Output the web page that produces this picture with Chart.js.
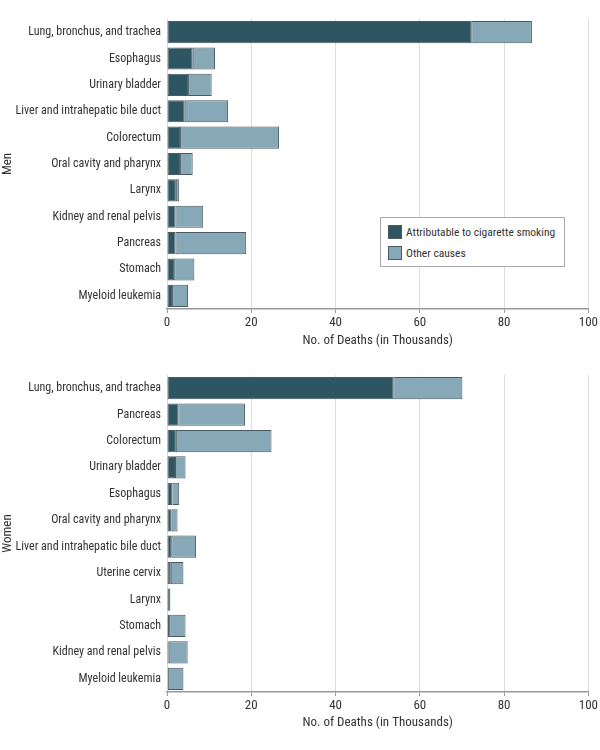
<!DOCTYPE html>
<html>
<head>
<meta charset="utf-8">
<script src="https://cdn.jsdelivr.net/npm/chart.js@4.4.1/dist/chart.umd.min.js"></script>
<style>
  body { margin: 0; background: #fff; }
  #wrap { position: relative; width: 600px; height: 750px; }
  canvas { display: block; }
  #legend {
    position: absolute; left: 380px; top: 217px; width: 183px; height: 48px;
    border: 1px solid #aaa; background: #fff;
    font-family: "Roboto Condensed", sans-serif;
    font-size: 11.5px; color: #333;
  }
  #legend div { position: absolute; left: 7px; height: 14px; line-height: 14px; white-space: nowrap; }
  #legend span.sw {
    display: inline-block; width: 12px; height: 12px; border: 1px solid #4a5a62;
    vertical-align: top; margin-right: 4px;
  }
</style>
</head>
<body>
<div id="wrap">
  <canvas id="menChart" width="600" height="349"></canvas>
  <canvas id="womenChart" width="600" height="382"></canvas>
  <div id="legend"></div>
</div>
<script>
// Data (thousands of deaths)
const seriesNames = ["Attributable to cigarette smoking", "Other causes"];
const seriesColors = ["#2e5562", "#87a8b7"];

const menCategories = [
  "Lung, bronchus, and trachea", "Esophagus", "Urinary bladder",
  "Liver and intrahepatic bile duct", "Colorectum", "Oral cavity and pharynx",
  "Larynx", "Kidney and renal pelvis", "Pancreas", "Stomach", "Myeloid leukemia"
];
const menSmoking = [72.2, 6.1, 5.0, 4.2, 3.1, 3.1, 2.1, 2.0, 2.0, 1.7, 1.2];
const menOther   = [14.4, 5.3, 5.6, 10.3, 23.5, 3.0, 0.8, 6.6, 16.8, 4.8, 3.8];

const womenCategories = [
  "Lung, bronchus, and trachea", "Pancreas", "Colorectum", "Urinary bladder",
  "Esophagus", "Oral cavity and pharynx", "Liver and intrahepatic bile duct",
  "Uterine cervix", "Larynx", "Stomach", "Kidney and renal pelvis", "Myeloid leukemia"
];
const womenSmoking = [53.7, 2.7, 2.1, 1.9, 1.3, 1.1, 1.0, 0.9, 0.8, 0.5, 0.4, 0.2];
const womenOther   = [16.4, 15.8, 22.7, 2.5, 1.6, 1.4, 5.9, 3.0, 0, 3.9, 4.5, 3.7];

const xTicks = [0, 20, 40, 60, 80, 100];

Chart.defaults.font.family = "'Roboto Condensed', sans-serif";
Chart.defaults.color = "#333";

function makeChart(id, labels, smoking, other, sideTitle, pad) {
  const ctx = document.getElementById(id).getContext("2d");
  return new Chart(ctx, {
    type: "bar",
    data: {
      labels: labels,
      datasets: [smoking, other].map((vals, i) => ({
        label: seriesNames[i],
        data: vals,
        backgroundColor: seriesColors[i],
        borderColor: "#4a5a62",
        borderWidth: 1,
        borderSkipped: false,
        categoryPercentage: 1,
        barPercentage: 0.84,
      })),
    },
    options: {
      indexAxis: "y",
      responsive: false,
      animation: false,
      layout: { padding: { top: pad.top, right: 9, bottom: 0, left: 0 } },
      plugins: { legend: { display: false }, tooltip: { enabled: false } },
      scales: {
        x: {
          stacked: true,
          min: 0,
          max: 100,
          afterBuildTicks: (s) => { s.ticks = xTicks.map((v) => ({ value: v })); },
          afterFit: (s) => { s.height = pad.xh; },
          ticks: { font: { size: 13 }, padding: 2, color: "#333" },
          grid: { color: "#dcdcdc", tickColor: "#999", tickLength: 4 },
          border: { color: "#999", width: 1.5 },
          title: {
            display: true, text: "No. of Deaths (in Thousands)",
            font: { size: 13 }, color: "#333", padding: { top: 2, bottom: 0 },
          },
        },
        y: {
          stacked: true,
          afterFit: (s) => { s.width = 167; },
          grid: { display: false, drawTicks: false },
          border: { display: false },
          ticks: { font: { size: 12 }, padding: 6, color: "#333", autoSkip: false },
          title: {
            display: true, text: sideTitle,
            font: { size: 13 }, color: "#333", padding: { top: 0, bottom: 0 },
          },
        },
      },
    },
  });
}

makeChart("menChart", menCategories, menSmoking, menOther, "Men", { top: 19, xh: 40 });
makeChart("womenChart", womenCategories, womenSmoking, womenOther, "Women", { top: 26, xh: 39 });

// Legend box inside top chart
document.getElementById("legend").innerHTML = seriesNames
  .map((n, i) => `<div style="top:${7 + i * 21}px"><span class="sw" style="background:${seriesColors[i]}"></span>${n}</div>`)
  .join("");
</script>
</body>
</html>
